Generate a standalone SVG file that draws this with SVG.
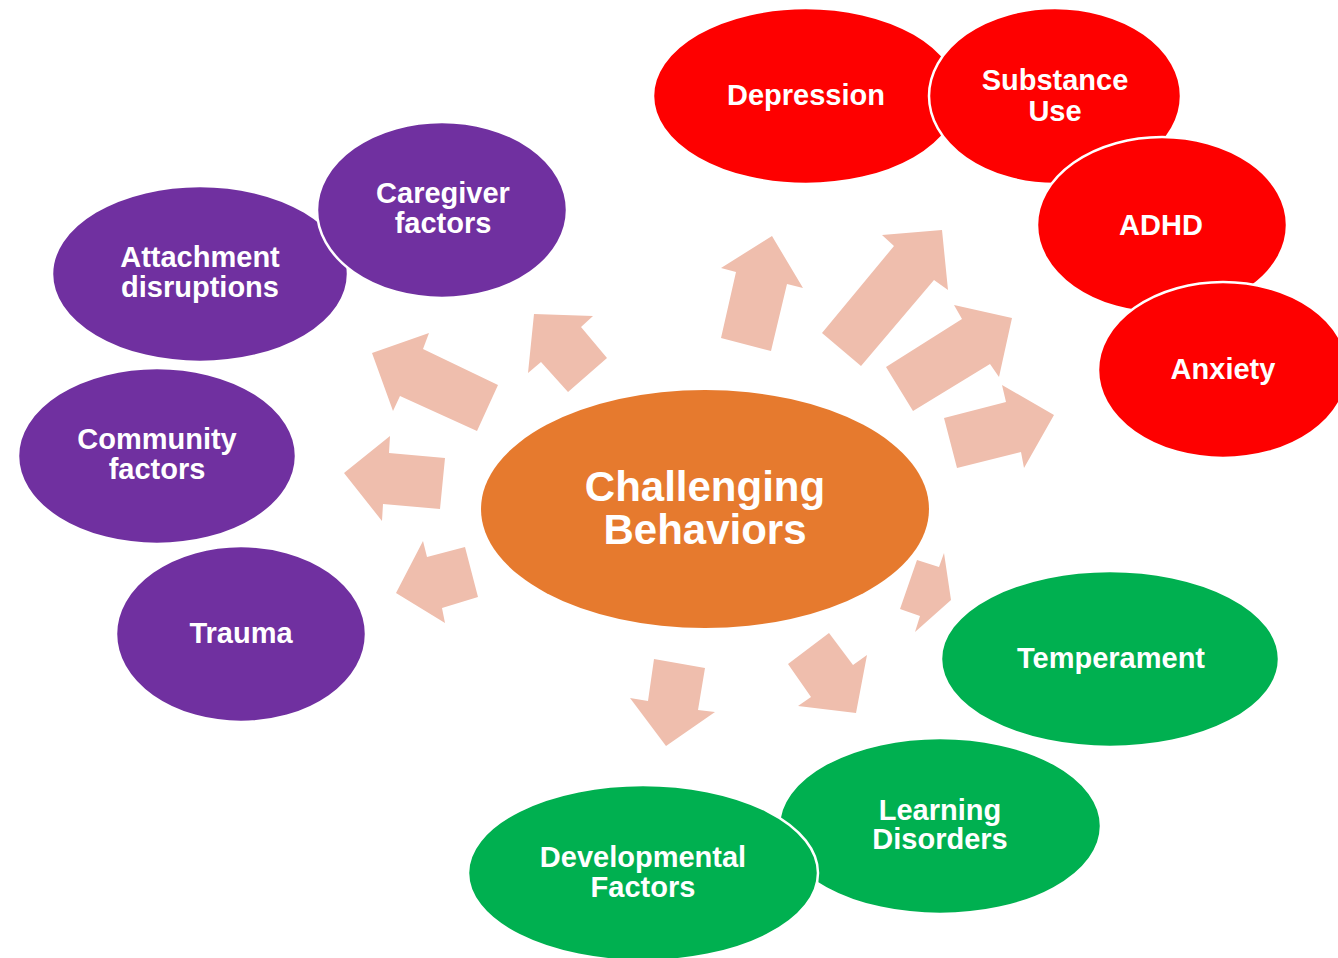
<svg xmlns="http://www.w3.org/2000/svg" width="1338" height="958" viewBox="0 0 1338 958">
<style>
.red{fill:#FE0000;stroke:#fff;stroke-width:2.5}
.pur{fill:#7030A0;stroke:#fff;stroke-width:2.5}
.grn{fill:#00B050;stroke:#fff;stroke-width:2.5}
.ctr{fill:#E67A2E}
.arr{fill:#EFBEAD}
text{font-family:"Liberation Sans",Arial,Helvetica,sans-serif;font-weight:bold;fill:#fff;text-anchor:middle}
.t{font-size:29px}
.big{font-size:42px}
</style>
<rect width="1338" height="958" fill="#fff"/>
<g id="connectors">
<polygon class="arr" points="372,353 429,333 423,349 498,385 477,431 400,396 393,411"/>
<polygon class="arr" points="534,314 593,316 581,327 607,358 568,392 541,362 528,373"/>
<polygon class="arr" points="344,473 390,436 389,453 445,458 440,509 383,504 382,521"/>
<polygon class="arr" points="396,593 423,541 427,557 465,547 478,597 442,608 445,623"/>
<polygon class="arr" points="772,236 803,288 787,284 771,351 721,338 736,272 721,268"/>
<polygon class="arr" points="942,230 948,290 934,280 861,366 822,333 894,246 882,235"/>
<polygon class="arr" points="1012,318 999,377 990,364 913,411 886,367 962,319 954,305"/>
<polygon class="arr" points="1054,415 1024,468 1021,452 957,468 944,418 1006,402 1002,385"/>
<polygon class="arr" points="654,659 705,668 698,710 715,712 666,746 630,698 648,701"/>
<polygon class="arr" points="829,633 788,664 811,697 798,706 856,713 867,655 853,665"/>
<polygon class="arr" points="917,560 900,609 920,616 915,632 951,600 944,553 939,567"/>
</g>
<g id="center">
<ellipse class="ctr" cx="705" cy="509" rx="224" ry="119"/>
<text class="big" x="705" y="501">Challenging</text>
<text class="big" x="705" y="544">Behaviors</text>
</g>
<g id="depression">
<ellipse class="red" cx="806" cy="96" rx="153" ry="88"/>
<text class="t" x="806" y="105">Depression</text>
</g>
<g id="substance-use">
<ellipse class="red" cx="1055" cy="96" rx="126" ry="88"/>
<text class="t" x="1055" y="90">Substance</text>
<text class="t" x="1055" y="121">Use</text>
</g>
<g id="adhd">
<ellipse class="red" cx="1162" cy="225" rx="125" ry="88"/>
<text class="t" x="1161" y="235">ADHD</text>
</g>
<g id="anxiety">
<ellipse class="red" cx="1223" cy="370" rx="125" ry="88"/>
<text class="t" x="1223" y="379">Anxiety</text>
</g>
<g id="attachment">
<ellipse class="pur" cx="200" cy="274" rx="148" ry="88"/>
<text class="t" x="200" y="267">Attachment</text>
<text class="t" x="200" y="297">disruptions</text>
</g>
<g id="caregiver">
<ellipse class="pur" cx="442" cy="210" rx="125" ry="88"/>
<text class="t" x="443" y="203">Caregiver</text>
<text class="t" x="443" y="233">factors</text>
</g>
<g id="community">
<ellipse class="pur" cx="157" cy="456" rx="139" ry="88"/>
<text class="t" x="157" y="449">Community</text>
<text class="t" x="157" y="479">factors</text>
</g>
<g id="trauma">
<ellipse class="pur" cx="241" cy="634" rx="125" ry="88"/>
<text class="t" x="241" y="643">Trauma</text>
</g>
<g id="temperament">
<ellipse class="grn" cx="1110" cy="659" rx="169" ry="88"/>
<text class="t" x="1111" y="668">Temperament</text>
</g>
<g id="learning">
<ellipse class="grn" cx="940" cy="826" rx="161" ry="88"/>
<text class="t" x="940" y="820">Learning</text>
<text class="t" x="940" y="849">Disorders</text>
</g>
<g id="developmental">
<ellipse class="grn" cx="643" cy="873" rx="175" ry="88"/>
<text class="t" x="643" y="867">Developmental</text>
<text class="t" x="643" y="897">Factors</text>
</g>
</svg>
